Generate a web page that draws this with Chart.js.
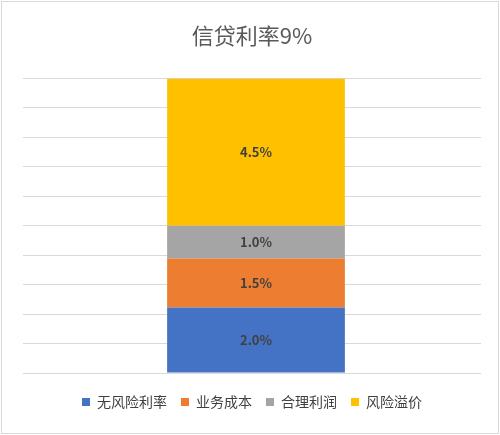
<!DOCTYPE html>
<html>
<head>
<meta charset="utf-8">
<script src="https://cdn.jsdelivr.net/npm/chart.js@4"></script>
<style>
  body { margin: 0; background: #fff; }
  #wrap { position: absolute; left: 1px; top: 1px; width: 496px; height: 431px; border: 1px solid #d9d9d9; }
</style>
</head>
<body>
<div id="wrap"><canvas id="c"></canvas></div>
<script>
const categories = ["信贷利率"]
const seriesNames = ["无风险利率", "业务成本", "合理利润", "风险溢价"]
const seriesValues = [[2.0], [1.5], [1.0], [4.5]]
const seriesColors = ["#4472c4", "#ed7d31", "#a5a5a5", "#ffc000"]

// draw the value labels in the middle of each segment
const valueLabels = {
  id: "valueLabels",
  afterDatasetsDraw(chart) {
    const ctx = chart.ctx
    ctx.save()
    ctx.font = "bold 13px 'Noto Sans CJK SC', sans-serif"
    ctx.fillStyle = "#404040"
    ctx.textAlign = "center"
    ctx.textBaseline = "middle"
    chart.data.datasets.forEach((ds, i) => {
      chart.getDatasetMeta(i).data.forEach((bar, j) => {
        ctx.fillText(ds.data[j].toFixed(1) + "%", bar.x, (bar.y + bar.base) / 2)
      })
    })
    ctx.restore()
  },
}

new Chart(document.getElementById("c"), {
  type: "bar",
  data: {
    labels: categories,
    datasets: seriesNames.map((name, i) => ({
      label: name,
      data: seriesValues[i],
      backgroundColor: seriesColors[i],
      barPercentage: 0.395,
      categoryPercentage: 1,
    })),
  },
  options: {
    responsive: true,
    maintainAspectRatio: false,
    animation: false,
    layout: { padding: { left: 21, right: 17, top: 0, bottom: 14 } },
    plugins: {
      title: {
        display: true,
        text: "信贷利率9%",
        color: "#595959",
        font: { size: 22, family: "'Noto Sans CJK SC', sans-serif", weight: "normal" },
        padding: { top: 20, bottom: 30 },
      },
      legend: {
        position: "bottom",
        labels: {
          boxWidth: 8,
          boxHeight: 8,
          color: "#404040",
          padding: 14,
          font: { size: 14, family: "'Noto Sans CJK SC', sans-serif" },
        },
      },
      tooltip: { enabled: false },
    },
    scales: {
      x: {
        stacked: true,
        grid: { display: false },
        border: { display: false },
        ticks: { display: false },
      },
      y: {
        stacked: true,
        min: 0,
        max: 9,
        grid: { color: "#d9d9d9", lineWidth: 1 },
        border: { display: false },
        ticks: { display: false, stepSize: 0.9 },
      },
    },
  },
  plugins: [valueLabels],
})
</script>
</body>
</html>
